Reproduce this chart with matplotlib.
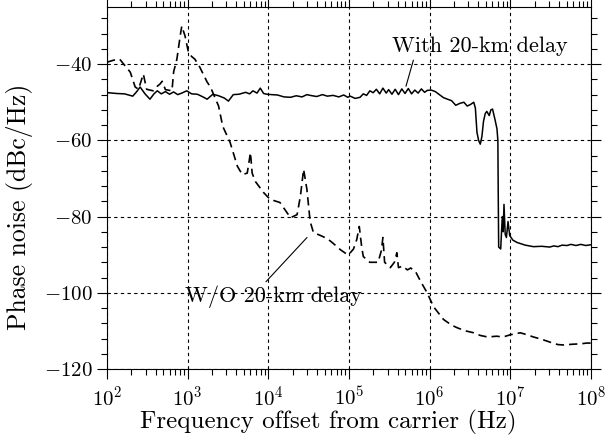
import numpy as np
import matplotlib
matplotlib.use('Agg')
import matplotlib.pyplot as plt
from matplotlib.ticker import LogLocator, MultipleLocator, NullFormatter

plt.rcParams['font.family'] = 'serif'
plt.rcParams['font.serif'] = ['cmr10', 'DejaVu Serif']
plt.rcParams['mathtext.fontset'] = 'cm'
plt.rcParams['axes.formatter.use_mathtext'] = True

# with 20-km delay (solid): log10(f) and phase noise (dBc/Hz)
with_logf = [2.000, 2.015, 2.116, 2.217, 2.319, 2.369, 2.410, 2.471, 2.532, 2.582, 2.623, 2.673, 2.724,
             2.775, 2.826, 2.876, 2.927, 2.988, 3.049, 3.119, 3.180, 3.241, 3.312, 3.383, 3.454, 3.505,
             3.565, 3.636, 3.718, 3.768, 3.809, 3.859, 3.900, 3.941, 3.981, 4.042, 4.113, 4.194, 4.275,
             4.346, 4.417, 4.478, 4.518, 4.599, 4.670, 4.731, 4.802, 4.873, 4.934, 4.985, 5.015, 5.076,
             5.137, 5.177, 5.218, 5.258, 5.299, 5.339, 5.380, 5.420, 5.461, 5.491, 5.532, 5.572, 5.613,
             5.654, 5.694, 5.735, 5.775, 5.816, 5.856, 5.897, 5.937, 5.968, 6.018, 6.069, 6.120, 6.171,
             6.221, 6.272, 6.323, 6.373, 6.424, 6.465, 6.505, 6.546, 6.566, 6.586, 6.606, 6.627, 6.647,
             6.667, 6.688, 6.708, 6.738, 6.758, 6.779, 6.809, 6.834, 6.845, 6.850, 6.855, 6.880, 6.900,
             6.911, 6.921, 6.936, 6.951, 6.971, 6.992, 7.032, 7.083, 7.184, 7.286, 7.387, 7.488, 7.539,
             7.590, 7.640, 7.701, 7.752, 7.813, 7.873, 7.934, 8.000]
with_pn = [-47.6, -47.5, -47.7, -47.8, -48.4, -47.2, -46.0, -47.8, -49.2, -47.8, -47.0, -47.8, -47.2,
           -47.9, -47.3, -48.0, -47.6, -47.0, -47.8, -47.9, -48.5, -49.2, -47.9, -48.3, -48.9, -49.7,
           -48.0, -47.9, -47.4, -47.8, -47.0, -47.6, -46.3, -47.7, -47.9, -48.0, -48.1, -48.6, -48.7,
           -48.3, -48.6, -48.0, -48.2, -48.5, -48.0, -48.4, -48.2, -48.6, -48.1, -48.7, -48.4, -49.0,
           -48.7, -47.8, -48.2, -47.0, -47.5, -46.6, -47.8, -46.3, -47.6, -46.7, -47.9, -46.6, -48.0,
           -46.5, -47.7, -46.4, -47.8, -46.8, -47.6, -46.5, -47.4, -46.9, -46.8, -47.2, -48.0, -48.8,
           -49.2, -49.6, -50.8, -50.3, -50.0, -51.0, -50.6, -50.0, -51.5, -57.9, -60.0, -61.0, -59.0,
           -55.0, -53.0, -52.4, -53.5, -52.0, -51.8, -54.5, -57.0, -60.0, -75.0, -88.0, -88.5, -80.0,
           -84.0, -76.8, -84.7, -85.5, -81.3, -85.0, -86.2, -86.8, -87.5, -87.9, -87.8, -88.0, -87.7,
           -87.9, -87.5, -87.6, -87.3, -87.6, -87.3, -87.6, -87.4]

# without delay (dashed)
wo_logf = [2.000, 2.075, 2.157, 2.207, 2.288, 2.349, 2.390, 2.450, 2.491, 2.572, 2.623, 2.653, 2.684, 2.724,
           2.805, 2.826, 2.866, 2.907, 2.927, 2.967, 3.008, 3.049, 3.089, 3.150, 3.241, 3.282, 3.383, 3.434,
           3.525, 3.616, 3.677, 3.738, 3.758, 3.778, 3.799, 3.839, 3.941, 4.022, 4.143, 4.275, 4.356, 4.397,
           4.437, 4.478, 4.518, 4.559, 4.650, 4.731, 4.802, 4.893, 4.954, 4.995, 5.056, 5.096, 5.127, 5.157,
           5.177, 5.258, 5.360, 5.400, 5.420, 5.441, 5.512, 5.562, 5.593, 5.613, 5.664, 5.724, 5.765, 5.826,
           5.887, 5.968, 6.049, 6.171, 6.272, 6.343, 6.444, 6.546, 6.627, 6.718, 6.829, 6.911, 7.002, 7.123,
           7.205, 7.286, 7.387, 7.498, 7.590, 7.661, 7.772, 7.873, 7.944, 8.000]
wo_pn = [-39.5, -39.0, -38.7, -40.0, -42.1, -46.0, -46.6, -42.6, -46.6, -47.0, -45.8, -45.3, -44.5, -46.7,
         -47.0, -42.0, -38.7, -32.6, -30.0, -32.6, -36.8, -38.0, -38.7, -40.8, -44.7, -46.0, -51.0, -56.3,
         -60.5, -66.8, -69.0, -68.6, -66.0, -63.2, -68.6, -70.8, -73.7, -75.5, -76.3, -80.3, -79.5, -74.7,
         -67.6, -72.9, -81.3, -84.2, -85.0, -85.8, -87.0, -88.7, -89.6, -90.0, -88.5, -86.0, -82.6, -88.0,
         -90.5, -92.0, -92.0, -89.0, -85.5, -92.0, -93.4, -92.0, -89.5, -93.4, -93.0, -94.0, -93.5, -94.5,
         -97.0, -100.0, -103.7, -107.0, -108.5, -109.2, -110.0, -110.5, -111.2, -111.6, -111.4, -111.6, -111.0, -110.5,
         -111.0, -111.6, -112.2, -113.0, -113.6, -113.7, -113.5, -113.4, -113.2, -113.2]

fig = plt.figure(figsize=(6.14, 4.36), dpi=100)
ax = fig.add_axes([0.1743, 0.1537, 0.7883, 0.8303])

ax.plot(10**np.array(with_logf), with_pn, 'k-', lw=1.1)
ax.plot(10**np.array(wo_logf), wo_pn, 'k', lw=1.2, dashes=(5, 3))

ax.set_xscale('log')
ax.set_xlim(1e2, 1e8)
ax.set_ylim(-120, -25)
ax.yaxis.set_major_locator(MultipleLocator(20))
ax.yaxis.set_minor_locator(MultipleLocator(4))
ax.xaxis.set_major_locator(LogLocator(base=10, numticks=10))
ax.xaxis.set_minor_locator(LogLocator(base=10, subs=np.arange(2, 10), numticks=20))
ax.xaxis.set_minor_formatter(NullFormatter())
ax.tick_params(which='both', direction='out', top=True, right=True, labelsize=15, width=0.8)
ax.tick_params(which='major', length=7)
ax.tick_params(which='minor', length=4)
ax.tick_params(axis='y', which='major', pad=3.5)
ax.tick_params(axis='x', which='major', pad=5)
ax.grid(True, which='major', color='k', linestyle=(0, (3, 3)), lw=0.8)

ax.set_xlabel('Frequency offset from carrier (Hz)', fontsize=18)
ax.set_ylabel('Phase noise (dBc/Hz)', fontsize=18.5)
ax.xaxis.set_label_coords(0.458, -0.112)
ax.yaxis.set_label_coords(-0.153, 0.449)

ax.annotate('With 20-km delay', xy=(10**5.706, -45.8), xytext=(10**6.618, -35.3),
            ha='center', va='center', fontsize=16,
            arrowprops=dict(arrowstyle='-', color='k', lw=0.8, relpos=(0.13, 0.0),
                            shrinkA=1, shrinkB=0))
ax.annotate('W/O 20-km delay', xy=(10**4.479, -85.5), xytext=(10**4.058, -101.05),
            ha='center', va='center', fontsize=16,
            arrowprops=dict(arrowstyle='-', color='k', lw=0.8, relpos=(0.44, 1.0),
                            shrinkA=1, shrinkB=0))

fig.savefig('out.png', dpi=100)
